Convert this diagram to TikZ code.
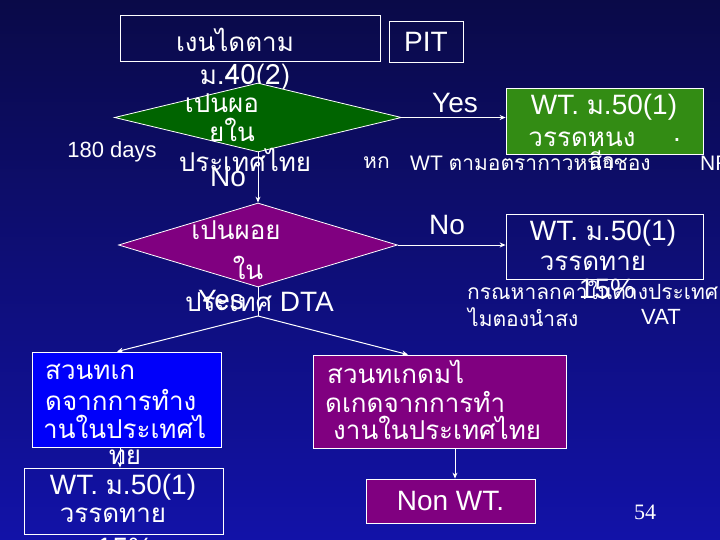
\documentclass[tikz,border=0pt]{standalone}
\usepackage{fontspec}
\setmainfont{Liberation Sans}
\newfontfamily\thai[Script=Thai]{Loma}
\newfontfamily\numfont{Liberation Serif}
\usetikzlibrary{arrows.meta,positioning,shapes.geometric}
\definecolor{slidetop}{RGB}{10,10,72}
\definecolor{slidebot}{RGB}{18,18,168}
\definecolor{dgreen}{RGB}{0,100,0}
\definecolor{lgreen}{RGB}{51,140,20}
\definecolor{plum}{RGB}{128,0,128}
\definecolor{vblue}{RGB}{0,0,250}
\newcommand{\lat}{\fontsize{28}{32}\selectfont}
\newcommand{\smlat}{\fontsize{22}{26}\selectfont}
\newcommand{\notelat}{\fontsize{21}{25}\selectfont}
\newcommand{\thaisz}{\thai\fontsize{26}{30}\selectfont}
\newcommand{\notethai}{\thai\fontsize{21}{25}\selectfont}
\tikzset{
  frame/.style={draw=white, line width=0.8pt, inner sep=0pt},
  ask/.style={diamond, draw=white, line width=0.8pt, inner sep=0pt},
  wtxt/.style={text=white, inner sep=0pt, font=\lat},
  ttxt/.style={text=white, inner sep=0pt, font=\thaisz},
  note/.style={text=white, inner sep=0pt, font=\notethai},
  conn/.style={draw=white, line width=1pt, -{Stealth[length=6pt,width=5pt]}}
}

\begin{document}
\begin{tikzpicture}[x=1pt, y=-1pt]
  % slide background
  \shade[top color=slidetop, bottom color=slidebot] (0,0) rectangle (720,540);
  \useasboundingbox (0,0) rectangle (720,540);
  % top boxes
  \node[frame, minimum width=260, minimum height=46] (inc) at (250,38) {};
  \node[ttxt] (incA) at (235,40) {เงนไดตาม};
  \node[ttxt] (incB) at (245,77) {ม\lat.40(2)};
  \node[frame, wtxt, minimum width=74, minimum height=41] (pit) at (426,41.5) {PIT};
  % first question
  \node[ask, fill=dgreen, minimum width=287, minimum height=69] (q1) at (258,117.5) {};
  \node[ttxt] (q1A) at (222,103) {เปนผอ};
  \node[ttxt] (q1B) at (232,130) {ยใน};
  \node[wtxt, font=\smlat] (q1C) at (112,152) {180 days};
  \node[ttxt] (q1D) at (245,160) {ประเทศไทย};
  \node[wtxt] (no1) at (228,177) {No};
  \node[wtxt] (yes1) at (455,103) {Yes};
  % resident -> progressive rate
  \node[frame, fill=lgreen, minimum width=197, minimum height=66] (wt1) at (604.5,121) {};
  \node[wtxt] (wt1A) at (604,107) {WT. {\thaisz ม}.50(1)};
  \node[ttxt] (wt1B) at (582,139) {วรรดหนง};
  \node[wtxt] (wt1C) at (677,140) {.};
  \node[note, anchor=west] (rateA) at (363,163) {หก};
  \node[wtxt, anchor=west, font=\notelat] (rateB) at (410,163) {WT {\notethai ตามอตรากาวหนาชอง}};
  \node[note] (rateC) at (602,160) {สีอ};
  \node[wtxt, anchor=west, font=\notelat] (rateD) at (700,163) {NR};
  \draw[conn] (q1.east) -- (q1.east -| wt1.west);
  % second question
  \node[ask, fill=plum, minimum width=279, minimum height=84] (q2) at (258,245) {};
  \draw[conn] (q1.south) -- (q2.north);
  \node[ttxt] (q2A) at (236,230) {เปนผอย};
  \node[ttxt] (q2B) at (248,268) {ใน};
  \node[wtxt, anchor=west] (q2C) at (185,302) {{\thaisz ประเทศ} DTA};
  \node[wtxt] (yes2) at (221,300) {Yes};
  \node[wtxt] (no2) at (447,225) {No};
  % non-DTA -> 15%
  \node[frame, minimum width=197, minimum height=65] (wt2) at (604.5,246.5) {};
  \node[wtxt] (wt2A) at (603,233) {WT. {\thaisz ม}.50(1)};
  \node[ttxt] (wt2B) at (593,263) {วรรดทาย};
  \node[note, anchor=west] (vatA) at (467,290) {กรณหาลกคาในตางประเทศ};
  \node[wtxt] (wt2C) at (607,289) {15\%};
  \node[note, anchor=west] (vatB) at (468,317) {ไมตองนำสง};
  \node[wtxt, font=\smlat] (vatC) at (661,317) {VAT};
  \draw[conn] (q2.east) -- (q2.east -| wt2.west);
  % split of the DTA branch
  \coordinate (split) at (258,316);
  \draw[draw=white, line width=1pt] (q2.south) -- (split);
  % work done in Thailand
  \node[frame, fill=vblue, minimum width=189, minimum height=95] (inth) at (126.5,399.5) {};
  \node[ttxt, anchor=west] (inthA) at (45,372) {สวนทเก};
  \node[ttxt, anchor=west] (inthB) at (45,400) {ดจากการทำง};
  \node[ttxt, anchor=west] (inthC) at (43,427) {านในประเทศไ};
  \node[ttxt] (inthD) at (125,457) {ทย};
  \node[frame, minimum width=199, minimum height=66] (wt3) at (123.5,501) {};
  \node[wtxt] (wt3A) at (123,487) {WT. {\thaisz ม}.50(1)};
  \node[ttxt] (wt3B) at (113,515) {วรรดทาย};
  \node[wtxt] (wt3C) at (125,548) {15\%};
  \draw[conn] ([xshift=-6.5pt]inth.south) -- ([xshift=-6.5pt]inth.south |- wt3.north);
  % work done outside Thailand
  \node[frame, fill=plum, minimum width=253, minimum height=93] (outth) at (439.5,401.5) {};
  \node[ttxt, anchor=west] (outthA) at (327,372) {สวนทเกดมไ};
  \node[ttxt, anchor=west] (outthB) at (325,402) {ดเกดจากการทำ};
  \node[ttxt, anchor=west] (outthC) at (333,428) {งานในประเทศไทย};
  \node[frame, fill=plum, wtxt, minimum width=169, minimum height=44] (nonwt) at (450.5,501) {Non WT.};
  \draw[conn] ([xshift=15.5pt]outth.south) -- ([xshift=15.5pt]outth.south |- nonwt.north);
  \draw[conn] (split) -- ([xshift=-9.5pt]inth.north);
  \draw[conn] (split) -- ([xshift=-31.5pt]outth.north);
  % page number
  \node[text=white, inner sep=0pt, font=\numfont\fontsize{22}{26}\selectfont] (pg) at (645,512) {54};
\end{tikzpicture}
\end{document}
